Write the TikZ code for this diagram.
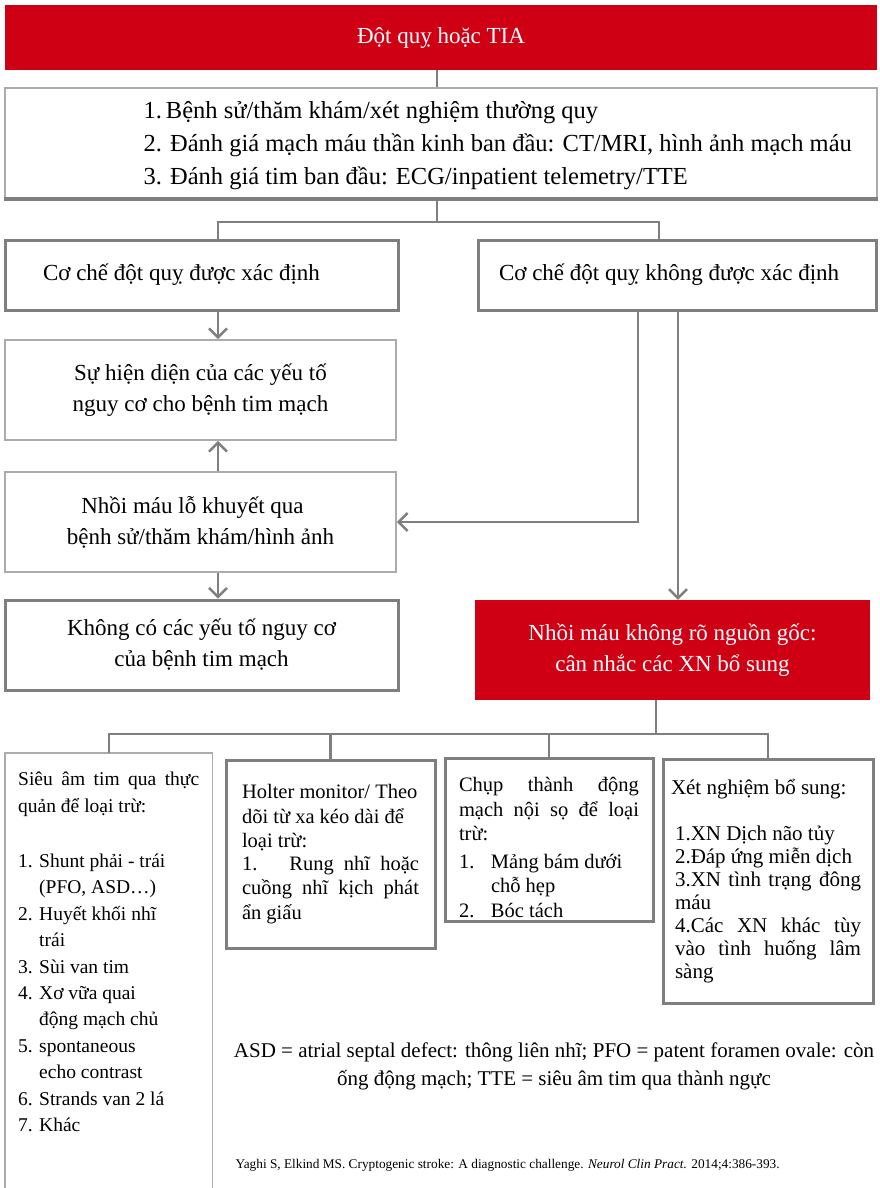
\documentclass[tikz,border=0pt]{standalone}
\usepackage{fontspec}
\setmainfont{Liberation Serif}
\usetikzlibrary{arrows.meta}
\definecolor{strokered}{RGB}{208,0,20}
\definecolor{boxgray}{RGB}{127,127,127}
\definecolor{palegray}{RGB}{172,172,172}
\newcommand{\mainsize}{\fontsize{23}{31}\selectfont}
\newcommand{\smallsize}{\fontsize{20.5}{24.5}\selectfont}
\newcommand{\plainspaces}{\spaceskip=0pt\xspaceskip=0pt\relax}
\newcommand{\fullline}[1]{\makebox[\hsize][s]{#1}}

\begin{document}
\begin{tikzpicture}[x=1pt, y=-1pt,
    redbox/.style={fill=strokered, text=white, font=\mainsize, align=center},
    thickbox/.style={draw=boxgray, line width=3pt},
    thinbox/.style={draw=palegray, line width=1.8pt},
    link/.style={draw=boxgray, line width=2.4pt},
    arrow/.style={link, -{Straight Barb[length=9pt, width=18pt]}}]
    \useasboundingbox (0,0) rectangle (879,1188);
    \fill[white] (0,0) rectangle (879,1188);
    \clip (0,0) rectangle (879,1188);

    \node[redbox, minimum width=872pt, minimum height=65pt] (stroke) at (441,37.5) {Đột quỵ hoặc TIA};
    \node[thinbox, minimum width=872pt, minimum height=110pt] (workup) at (441,143) {};
    \node[font=\fontsize{24.5}{33}\selectfont, align=left, anchor=west] (workuptext) at (140,146)
        {1.\,Bệnh sử/thăm khám/xét nghiệm thường quy\\
         2. Đánh giá mạch máu thần kinh ban đầu: CT/MRI, hình ảnh mạch máu\\
         3. Đánh giá tim ban đầu: ECG/inpatient telemetry/TTE};
    \draw[boxgray, line width=3.5pt] (workup.south west) -- (workup.south east);

    \node[thickbox, font=\mainsize, align=left, text width=317pt, inner xsep=38pt, minimum height=70pt] (known) at (201.5,275) {\plainspaces Cơ chế đột quỵ được xác định};
    \node[thickbox, font=\mainsize, align=left, text width=356pt, inner xsep=21pt, minimum height=70pt] (unknown) at (677,275) {\plainspaces Cơ chế đột quỵ không được xác định};

    \node[thinbox, font=\mainsize, align=center, minimum width=391pt, minimum height=100pt] (riskyes) at (200.5,390)
        {Sự hiện diện của các yếu tố\\nguy cơ cho bệnh tim mạch};
    \node[thinbox, font=\mainsize, align=center, minimum width=391pt, minimum height=100pt] (lacunar) at (200.5,522)
        {Nhồi máu lỗ khuyết qua\hspace*{16pt}\\bệnh sử/thăm khám/hình ảnh};
    \node[thickbox, font=\mainsize, align=center, minimum width=393pt, minimum height=90pt] (riskno) at (201.5,645)
        {Không có các yếu tố nguy cơ\\của bệnh tim mạch};
    \node[redbox, minimum width=395pt, minimum height=100pt] (esus) at (672.5,650)
        {Nhồi máu không rõ nguồn gốc:\\cân nhắc các XN bổ sung};

    \node[font=\fontsize{19.5}{26.4}\selectfont, align=left, text width=181pt, inner xsep=13pt, inner ysep=19pt, anchor=north west] (tee) at (5,753)
        {\plainspaces
         \fullline{Siêu âm tim qua thực}\\
         quản để loại trừ:\\[29pt]
         \makebox[21pt][l]{1.}Shunt phải - trái\\
         \hspace*{21pt}(PFO, ASD…)\\
         \makebox[21pt][l]{2.}Huyết khối nhĩ\\
         \hspace*{21pt}trái\\
         \makebox[21pt][l]{3.}Sùi van tim\\
         \makebox[21pt][l]{4.}Xơ vữa quai\\
         \hspace*{21pt}động mạch chủ\\
         \makebox[21pt][l]{5.}spontaneous\\
         \hspace*{21pt}echo contrast\\
         \makebox[21pt][l]{6.}Strands van 2 lá\\
         \makebox[21pt][l]{7.}Khác};
    \draw[thinbox] (tee.north west |- 0,1200) -- (tee.north west) -- (tee.north east) -- (tee.north east |- 0,1200);
    \node[thickbox, font=\smallsize, align=left, text width=177pt, minimum width=209pt, minimum height=188pt] (holter) at (330.5,854)
        {\plainspaces
         Holter monitor/ Theo\\
         dõi từ xa kéo dài để\\
         loại trừ:\\[-2pt]
         \fullline{1. \ Rung nhĩ hoặc}\\
         \fullline{cuồng nhĩ kịch phát}\\
         ẩn giấu};
    \node[thickbox, font=\smallsize, align=left, text width=180pt, inner ysep=2pt, minimum width=208pt, minimum height=163pt] (cta) at (549,839.5)
        {\plainspaces
         \fullline{\rule{0pt}{30pt}Chụp thành động}\\
         \fullline{mạch nội sọ để loại}\\
         trừ:\\[3pt]
         \makebox[32pt][l]{1.}Mảng bám dưới\\
         \hspace*{32pt}chỗ hẹp\\
         \makebox[32pt][l]{2.}Bóc tách};
    \node[thickbox, font=\fontsize{21}{23}\selectfont, align=left, text width=186pt, minimum width=210pt, minimum height=244pt] (extra) at (768,881)
        {\plainspaces
         \hspace*{-4pt}Xét nghiệm bổ sung:\\[23pt]
         1.XN Dịch não tủy\\
         2.Đáp ứng miễn dịch\\
         \fullline{3.XN tình trạng đông}\\
         máu\\
         \fullline{4.Các XN khác tùy}\\
         \fullline{vào tình huống lâm}\\
         sàng};

    \node[font=\fontsize{21}{28}\selectfont, align=center] (abbrev) at (554,1066)
        {ASD = atrial septal defect: thông liên nhĩ; PFO = patent foramen ovale: còn\\
         ống động mạch; TTE = siêu âm tim qua thành ngực};
    \node[font=\fontsize{13.3}{15}\selectfont, anchor=west] (source) at (232,1165)
        {Yaghi S, Elkind MS. Cryptogenic stroke: A diagnostic challenge. \textit{Neurol Clin Pract.} 2014;4:386-393.};

    \coordinate (split) at (437,222);
    \coordinate (leftcol) at (218,0);
    \coordinate (midcol) at (638,0);
    \coordinate (rightcol) at (678,0);
    \coordinate (busmid) at (656,734);

    \draw[link] (stroke.south -| split) -- (workup.north -| split);
    \draw[link] (workup.south -| split) -- (split);
    \draw[link] (leftcol |- known.north) |- (split) -| ([xshift=-18pt]unknown.north);
    \draw[arrow] (leftcol |- known.south) -- (leftcol |- riskyes.north);
    \draw[arrow] (leftcol |- lacunar.north) -- (leftcol |- riskyes.south);
    \draw[arrow] (leftcol |- lacunar.south) -- (leftcol |- riskno.north);
    \draw[arrow] (midcol |- unknown.south) |- (lacunar.east);
    \draw[arrow] (rightcol |- unknown.south) -- (rightcol |- esus.north);

    \draw[link] (busmid |- esus.south) -- (busmid);
    \draw[link] (tee.north) |- (busmid) -| (extra.north);
    \draw[link] (holter.north) -- (holter.north |- busmid);
    \draw[link] (cta.north) -- (cta.north |- busmid);
\end{tikzpicture}
\end{document}
